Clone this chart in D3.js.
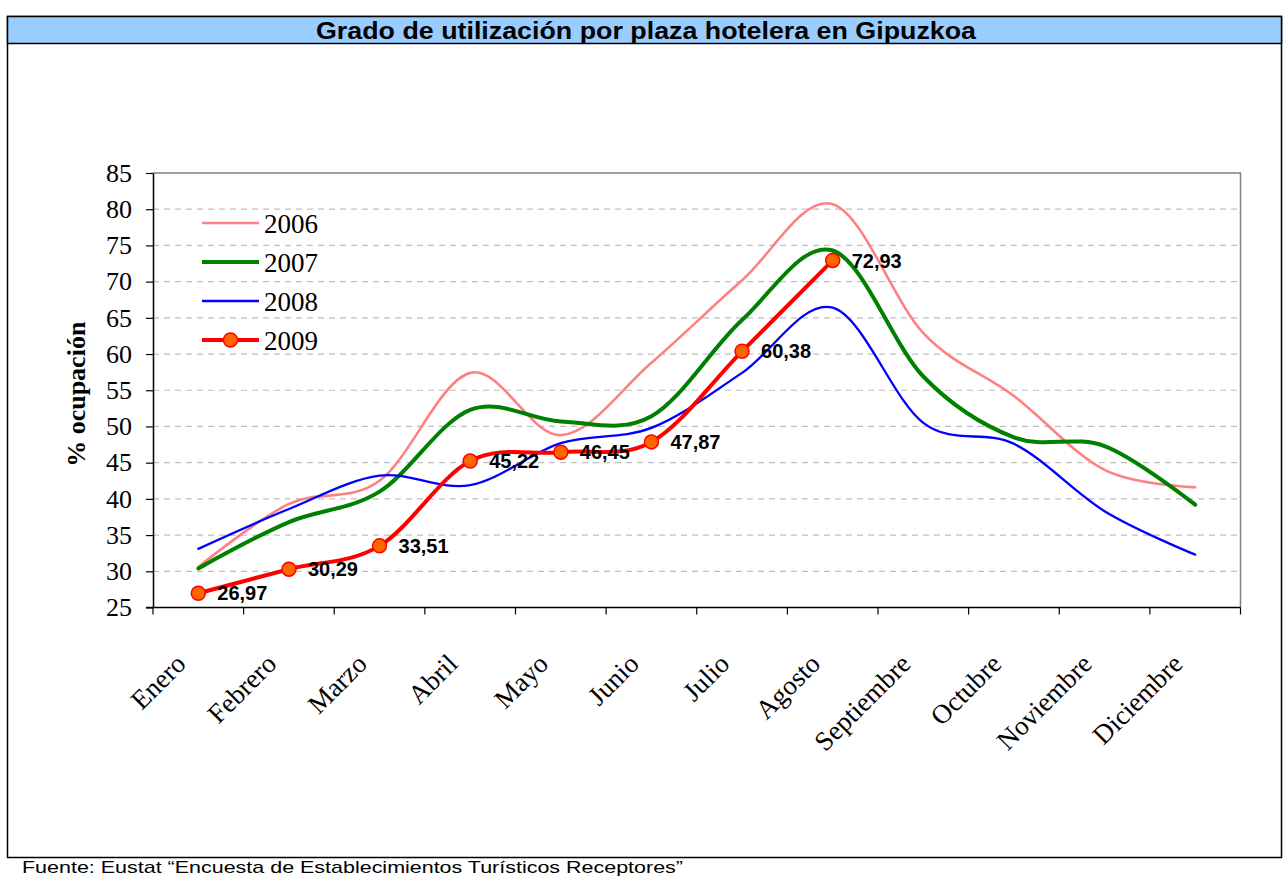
<!DOCTYPE html>
<html>
<head>
<meta charset="utf-8">
<script src="https://cdn.jsdelivr.net/npm/d3@7"></script>
<style>
  body { margin: 0; background: #fff; }
  svg { display: block; }
</style>
</head>
<body>
<script>
'use strict';

// data
const months = ["Enero", "Febrero", "Marzo", "Abril", "Mayo", "Junio", "Julio",
  "Agosto", "Septiembre", "Octubre", "Noviembre", "Diciembre"];
const v2006 = [30.6, 39.3, 42.5, 57.4, 48.8, 58.8, 70.2, 80.7, 62.9, 54.2, 44.0, 41.6];
const v2007 = [30.4, 36.8, 41.0, 52.3, 50.7, 51.4, 64.7, 74.3, 56.9, 48.5, 47.3, 39.2];
const v2008 = [33.1, 38.6, 43.2, 41.9, 47.7, 49.8, 57.4, 66.4, 50.5, 47.6, 38.3, 32.3];
const v2009 = [26.97, 30.29, 33.51, 45.22, 46.45, 47.87, 60.38, 72.93];
const yTicks = [25, 30, 35, 40, 45, 50, 55, 60, 65, 70, 75, 80, 85];

const series = [
  { name: "2006", values: v2006, color: "#FF8080", width: 2.6 },
  { name: "2007", values: v2007, color: "#008000", width: 4 },
  { name: "2008", values: v2008, color: "#0000FF", width: 2.3 },
  { name: "2009", values: v2009, color: "#FF0000", width: 4, markers: true }
];

const W = 1286, H = 876;
const serif = "'Liberation Serif', 'Times New Roman', serif";
const sans = "'Liberation Sans', Arial, sans-serif";

const svg = d3.select("body").append("svg")
  .attr("width", W).attr("height", H);

// frame + title band
svg.append("rect").attr("x", 7.5).attr("y", 16.5).attr("width", 1274).attr("height", 841)
  .attr("fill", "#fff").attr("stroke", "#000").attr("stroke-width", 1.5);
svg.append("rect").attr("x", 7.5).attr("y", 16.5).attr("width", 1274).attr("height", 27)
  .attr("fill", "#99CCFF").attr("stroke", "#000").attr("stroke-width", 1.5);
svg.append("text").attr("x", 646).attr("y", 38.5)
  .attr("text-anchor", "middle").style("font", "bold 23px " + sans)
  .attr("textLength", 660).attr("lengthAdjust", "spacingAndGlyphs")
  .text("Grado de utilización por plaza hotelera en Gipuzkoa");

svg.append("text").attr("x", 22).attr("y", 872.5)
  .style("font", "17px " + sans).attr("fill", "#000")
  .attr("textLength", 661).attr("lengthAdjust", "spacingAndGlyphs")
  .text("Fuente: Eustat “Encuesta de Establecimientos Turísticos Receptores”");

const pLeft = 153, pRight = 1240.5, pTop = 173, pBottom = 607.5;

const x = d3.scaleBand().domain(months).range([pLeft, pRight]);
const y = d3.scaleLinear().domain([25, 85]).range([pBottom, pTop]);
const cx = (i) => x(months[i]) + x.bandwidth() / 2;

// gridlines
svg.append("g").selectAll("line")
  .data(yTicks.filter(d => d > 25 && d < 85))
  .join("line")
  .attr("x1", pLeft).attr("x2", pRight)
  .attr("y1", d => y(d)).attr("y2", d => y(d))
  .attr("stroke", "#C0C0C0").attr("stroke-width", 1.2).attr("stroke-dasharray", "6,5");

// plot border top/right
svg.append("path")
  .attr("d", `M${pLeft},${pTop}H${pRight}V${pBottom}`)
  .attr("fill", "none").attr("stroke", "#808080").attr("stroke-width", 1.5);

// y axis
const yAxis = svg.append("g")
  .attr("transform", `translate(${pLeft},0)`)
  .call(d3.axisLeft(y).tickValues(yTicks).tickSize(7).tickSizeOuter(0).tickPadding(14));
yAxis.select(".domain").attr("stroke", "#000").attr("stroke-width", 1.5);
yAxis.selectAll(".tick line").attr("stroke", "#000").attr("stroke-width", 1.2);
yAxis.selectAll(".tick text").style("font", "26px " + serif).attr("fill", "#000");

// x axis (ticks at band edges)
const xAxis = svg.append("g").attr("transform", `translate(0,${pBottom})`);
xAxis.append("line").attr("x1", pLeft - 7).attr("x2", pRight)
  .attr("stroke", "#000").attr("stroke-width", 1.5);
xAxis.selectAll("line.tk")
  .data(months.concat(["end"]))
  .join("line").attr("class", "tk")
  .attr("x1", (d, i) => i < months.length ? x(d) : pRight)
  .attr("x2", (d, i) => i < months.length ? x(d) : pRight)
  .attr("y1", 0).attr("y2", 7)
  .attr("stroke", "#000").attr("stroke-width", 1.2);
xAxis.selectAll("text")
  .data(months)
  .join("text")
  .attr("transform", (d, i) => `translate(${cx(i) - 11},${58}) rotate(-45)`)
  .attr("text-anchor", "end")
  .style("font", "27px " + serif)
  .text(d => d);

// y axis title
svg.append("text")
  .attr("transform", `translate(85,${(pTop + pBottom) / 2 + 4}) rotate(-90)`)
  .attr("text-anchor", "middle")
  .style("font", "bold 26px " + serif)
  .text("% ocupación");

// lines
const line = d3.line()
  .x((d, i) => cx(i))
  .y(d => y(d))
  .curve(d3.curveCatmullRom.alpha(0));

svg.append("g").selectAll("path")
  .data(series)
  .join("path")
  .attr("d", d => line(d.values))
  .attr("fill", "none")
  .attr("stroke", d => d.color)
  .attr("stroke-width", d => d.width)
  .attr("stroke-linejoin", "round")
  .attr("stroke-linecap", "round");

// 2009 markers & labels
const s9 = series[3];
svg.append("g").selectAll("circle")
  .data(s9.values)
  .join("circle")
  .attr("cx", (d, i) => cx(i)).attr("cy", d => y(d)).attr("r", 7)
  .attr("fill", "#FF6600").attr("stroke", "#FF0000").attr("stroke-width", 1.5);
svg.append("g").selectAll("text")
  .data(s9.values)
  .join("text")
  .attr("x", (d, i) => cx(i) + 19).attr("y", d => y(d))
  .attr("dy", "0.36em")
  .style("font", "bold 20px " + sans)
  .text(d => d3.format(".2f")(d).replace(".", ","));

// legend
const lg = svg.append("g").attr("transform", "translate(202,223)");
const row = lg.selectAll("g").data(series).join("g")
  .attr("transform", (d, i) => `translate(0,${i * 39})`);
row.append("line").attr("x1", 0).attr("x2", 57)
  .attr("stroke", d => d.color).attr("stroke-width", d => d.width);
row.filter(d => d.markers).append("circle")
  .attr("cx", 28.5).attr("r", 7)
  .attr("fill", "#FF6600").attr("stroke", "#FF0000").attr("stroke-width", 1.5);
row.append("text").attr("x", 62).attr("dy", "0.36em")
  .style("font", "27px " + serif).text(d => d.name);
</script>
</body>
</html>
